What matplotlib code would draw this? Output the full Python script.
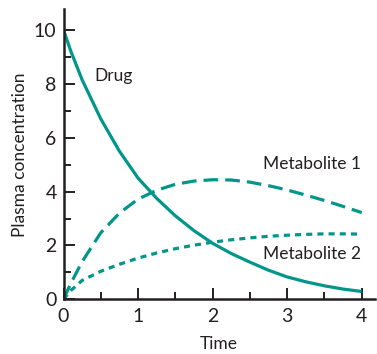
import matplotlib
matplotlib.use("Agg")
import matplotlib.pyplot as plt
from matplotlib.ticker import MultipleLocator

time = [0, 0.1, 0.25, 0.5, 0.75, 1, 1.25, 1.5, 1.75, 2, 2.25, 2.5, 2.75, 3, 3.25, 3.5, 3.75, 4]
drug = [10, 9.2, 8.15, 6.7, 5.5, 4.5, 3.75, 3.1, 2.55, 2.08, 1.7, 1.38, 1.08, 0.83, 0.65, 0.5, 0.38, 0.29]
metabolite1 = [0, 0.6, 1.4, 2.47, 3.2, 3.72, 4.05, 4.27, 4.39, 4.44, 4.43, 4.35, 4.22, 4.06, 3.87, 3.67, 3.45, 3.22]
metabolite2 = [0, 0.33, 0.7, 1.04, 1.3, 1.53, 1.72, 1.88, 2.01, 2.12, 2.21, 2.28, 2.34, 2.38, 2.41, 2.43, 2.43, 2.42]
series_labels = ["Drug", "Metabolite 1", "Metabolite 2"]
x_label = "Time"
y_label = "Plasma concentration"

plt.rcParams['font.family'] = ['Lato', 'DejaVu Sans']
teal = "#00968a"
dark = "#231f20"

W, H = 377, 354
fig = plt.figure(figsize=(W / 100, H / 100), dpi=100)
ax = fig.add_axes([63.5 / W, 54.7 / H, (375 - 63.5) / W, (299.3 - 9.3) / H])

ax.plot(time, drug, color=teal, lw=2.3, solid_capstyle='butt')
ax.plot(time, metabolite1, color=teal, lw=2.3, dashes=(4.6, 2.2), dash_capstyle='butt')
ax.plot(time, metabolite2, color=teal, lw=2.3, dashes=(1.9, 1.6), dash_capstyle='butt')

ax.set_xlim(0, (375 - 63.5) / 74.55)
ax.set_ylim(0, (299.3 - 9.3) / 26.93)

for s in ['top', 'right']:
    ax.spines[s].set_visible(False)
for s in ['left', 'bottom']:
    ax.spines[s].set_linewidth(1.8)
    ax.spines[s].set_color(dark)

ax.xaxis.set_major_locator(MultipleLocator(1))
ax.xaxis.set_minor_locator(MultipleLocator(0.5))
ax.yaxis.set_major_locator(MultipleLocator(2))
ax.yaxis.set_minor_locator(MultipleLocator(1))
ax.set_xticks([0, 1, 2, 3, 4])
ax.set_yticks([0, 2, 4, 6, 8, 10])
ax.tick_params(which='both', direction='in', color=dark, width=1.4, labelsize=14, labelcolor=dark)
ax.tick_params(which='major', length=8)
ax.tick_params(which='minor', length=5)
ax.tick_params(axis='x', pad=6)
ax.tick_params(axis='y', pad=5)

ax.set_xlabel(x_label, fontsize=12.5, color=dark, labelpad=8)
ax.set_ylabel(y_label, fontsize=12.5, color=dark, labelpad=4)

ax.text(0.42, 8.29, series_labels[0], fontsize=12.5, color=dark, va='center', ha='left')
ax.text(2.68, 5.02, series_labels[1], fontsize=12.5, color=dark, va='center', ha='left')
ax.text(2.68, 1.68, series_labels[2], fontsize=12.5, color=dark, va='center', ha='left')

fig.savefig("out.png", dpi=100)
